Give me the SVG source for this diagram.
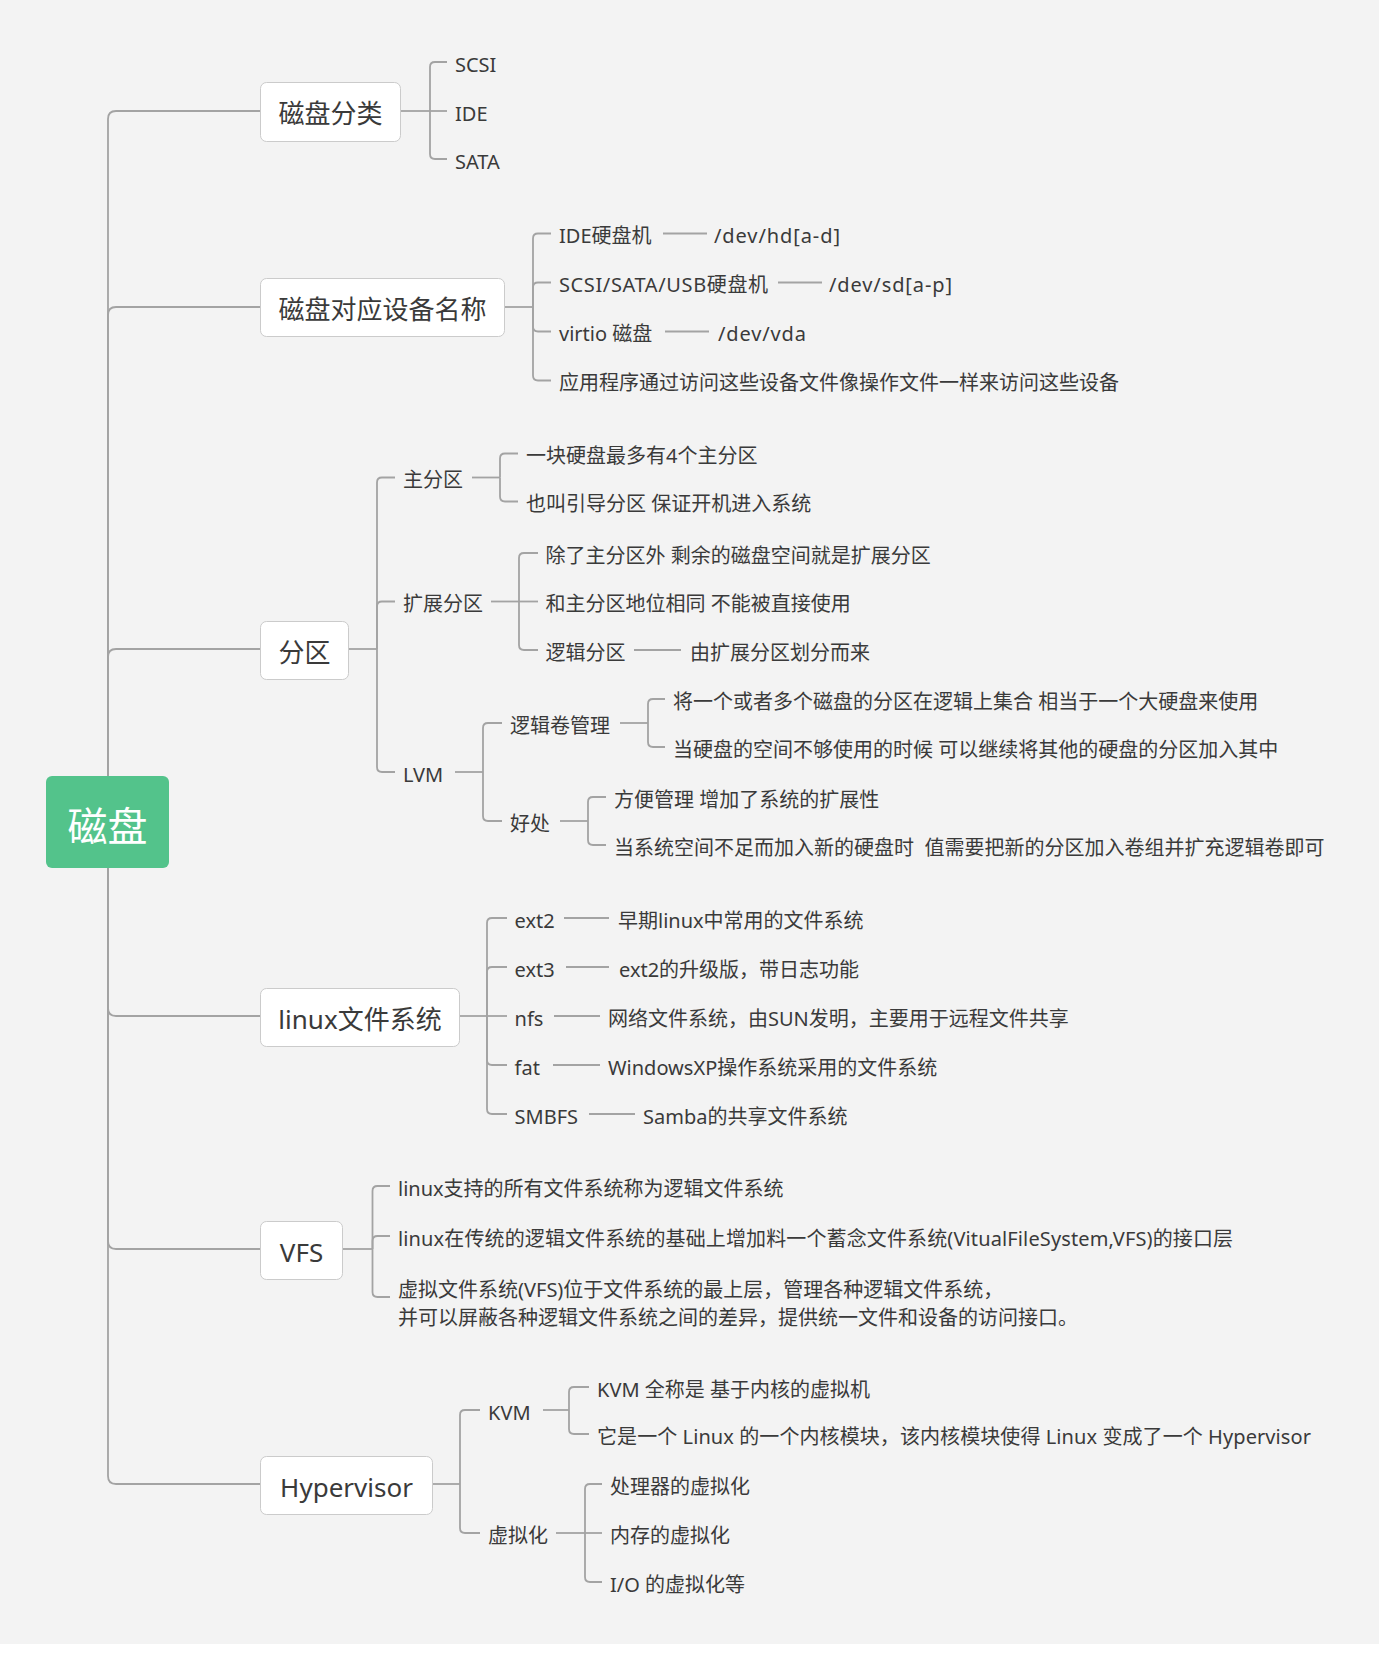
<svg xmlns="http://www.w3.org/2000/svg" width="1387" height="1654" viewBox="0 0 1387 1654">
<style>
text{font-family:"Noto Sans","Noto Sans CJK SC",sans-serif;fill:#3a3a3a}
.t{font-size:20px}
.b{font-size:26px;text-anchor:middle}
.box{fill:#ffffff;stroke:#cbcbcb;stroke-width:1}
#connectors path{fill:none;stroke:#a3a3a3;stroke-width:1.8}
</style>
<rect width="1387" height="1654" fill="#ffffff"/>
<rect width="1379" height="1644" fill="#f3f3f3"/>
<g id="connectors">
<path d="M108,776 V119 Q108,111 116,111 H260"/>
<path d="M108,776 V315 Q108,307 116,307 H260"/>
<path d="M108,776 V657 Q108,649 116,649 H260"/>
<path d="M108,868 V1008 Q108,1016 116,1016 H260"/>
<path d="M108,868 V1241 Q108,1249 116,1249 H260"/>
<path d="M108,868 V1476 Q108,1484 116,1484 H260"/>
<path d="M400,111 H430"/>
<path d="M430,111 V67 Q430,62 435,62 H447"/>
<path d="M430,111 H447"/>
<path d="M430,111 V154 Q430,159 435,159 H447"/>
<path d="M504,307 H533"/>
<path d="M533,307 V238.5 Q533,233.5 538,233.5 H551"/>
<path d="M533,307 V287.5 Q533,282.5 538,282.5 H551"/>
<path d="M533,307 V326.5 Q533,331.5 538,331.5 H551"/>
<path d="M533,307 V375.5 Q533,380.5 538,380.5 H551"/>
<path d="M663,233.5 H707"/>
<path d="M778,282.5 H822"/>
<path d="M665,331.5 H709"/>
<path d="M348,649 H377"/>
<path d="M377,649 V482.5 Q377,477.5 382,477.5 H395"/>
<path d="M377,649 V606.5 Q377,601.5 382,601.5 H395"/>
<path d="M377,649 V767 Q377,772 382,772 H395"/>
<path d="M472,477.5 H500"/>
<path d="M500,477.5 V458.5 Q500,453.5 505,453.5 H518"/>
<path d="M500,477.5 V496.5 Q500,501.5 505,501.5 H518"/>
<path d="M491,601.5 H519"/>
<path d="M519,601.5 V558 Q519,553 524,553 H538"/>
<path d="M519,601.5 H538"/>
<path d="M519,601.5 V645 Q519,650 524,650 H538"/>
<path d="M634,650 H681"/>
<path d="M455,772 H483"/>
<path d="M483,772 V728 Q483,723 488,723 H502"/>
<path d="M483,772 V816 Q483,821 488,821 H502"/>
<path d="M620,723 H648"/>
<path d="M648,723 V704 Q648,699 653,699 H665"/>
<path d="M648,723 V742 Q648,747 653,747 H665"/>
<path d="M560,821 H588"/>
<path d="M588,821 V802 Q588,797 593,797 H606"/>
<path d="M588,821 V840 Q588,845 593,845 H606"/>
<path d="M459,1016 H487"/>
<path d="M487,1016 V923 Q487,918 492,918 H507"/>
<path d="M487,1016 V972 Q487,967 492,967 H507"/>
<path d="M487,1016 H507"/>
<path d="M487,1016 V1060 Q487,1065 492,1065 H507"/>
<path d="M487,1016 V1109 Q487,1114 492,1114 H507"/>
<path d="M564,918 H609"/>
<path d="M566,967 H609"/>
<path d="M554,1016 H600"/>
<path d="M553,1065 H600"/>
<path d="M589,1114 H635"/>
<path d="M342,1249 H372.5"/>
<path d="M372.5,1249 V1191 Q372.5,1186 377.5,1186 H390"/>
<path d="M372.5,1249 V1241 Q372.5,1236 377.5,1236 H390"/>
<path d="M372.5,1249 V1292 Q372.5,1297 377.5,1297 H390"/>
<path d="M432,1484 H460"/>
<path d="M460,1484 V1415 Q460,1410 465,1410 H480"/>
<path d="M460,1484 V1528 Q460,1533 465,1533 H480"/>
<path d="M543,1410 H569"/>
<path d="M569,1410 V1392 Q569,1387 574,1387 H589"/>
<path d="M569,1410 V1429 Q569,1434 574,1434 H589"/>
<path d="M556,1533 H585"/>
<path d="M585,1533 V1489 Q585,1484 590,1484 H602"/>
<path d="M585,1533 H602"/>
<path d="M585,1533 V1577 Q585,1582 590,1582 H602"/>
</g>
<g id="root">
<rect x="46" y="776" width="123" height="92" rx="6" fill="#53c38b"/>
<text x="107.5" y="841" style="font-size:40px;text-anchor:middle;fill:#ffffff">磁盘</text>
</g>
<g id="n-fenlei">
<rect class="box" x="260.5" y="82.5" width="140" height="59" rx="6"/>
<text class="b" x="330.5" y="123">磁盘分类</text>
</g>
<g id="n-scsi"><text class="t" x="455" y="71.5">SCSI</text></g>
<g id="n-ide"><text class="t" x="455" y="120.5">IDE</text></g>
<g id="n-sata"><text class="t" x="455" y="168.5">SATA</text></g>
<g id="n-devname">
<rect class="box" x="260.5" y="278.5" width="244" height="58" rx="6"/>
<text class="b" x="382.5" y="319">磁盘对应设备名称</text>
</g>
<g id="n-ide2"><text class="t" x="559" y="243">IDE硬盘机</text></g>
<g id="n-hd"><text class="t" x="714" y="243" textLength="126" lengthAdjust="spacing">/dev/hd[a-d]</text></g>
<g id="n-scsi2"><text class="t" x="559" y="292" textLength="209" lengthAdjust="spacing">SCSI/SATA/USB硬盘机</text></g>
<g id="n-sd"><text class="t" x="829" y="292" textLength="123" lengthAdjust="spacing">/dev/sd[a-p]</text></g>
<g id="n-virtio"><text class="t" x="559" y="341">virtio 磁盘</text></g>
<g id="n-vda"><text class="t" x="718" y="341" textLength="88" lengthAdjust="spacing">/dev/vda</text></g>
<g id="n-app"><text class="t" x="559" y="390">应用程序通过访问这些设备文件像操作文件一样来访问这些设备</text></g>
<g id="n-fenqu">
<rect class="box" x="260.5" y="621.5" width="88" height="58" rx="6"/>
<text class="b" x="304.5" y="662">分区</text>
</g>
<g id="n-zhu"><text class="t" x="403" y="487">主分区</text></g>
<g id="n-zhu1"><text class="t" x="526" y="463">一块硬盘最多有4个主分区</text></g>
<g id="n-zhu2"><text class="t" x="526" y="511">也叫引导分区 保证开机进入系统</text></g>
<g id="n-kuo"><text class="t" x="403" y="611">扩展分区</text></g>
<g id="n-kuo1"><text class="t" x="545.5" y="562.5">除了主分区外 剩余的磁盘空间就是扩展分区</text></g>
<g id="n-kuo2"><text class="t" x="545.5" y="611">和主分区地位相同 不能被直接使用</text></g>
<g id="n-luoji"><text class="t" x="545.5" y="659.5">逻辑分区</text></g>
<g id="n-luoji1"><text class="t" x="690" y="659.5">由扩展分区划分而来</text></g>
<g id="n-lvm"><text class="t" x="403" y="781.5">LVM</text></g>
<g id="n-lvm1"><text class="t" x="510" y="732.5">逻辑卷管理</text></g>
<g id="n-lvm11"><text class="t" x="673" y="708.5">将一个或者多个磁盘的分区在逻辑上集合 相当于一个大硬盘来使用</text></g>
<g id="n-lvm12"><text class="t" x="673" y="756.5">当硬盘的空间不够使用的时候 可以继续将其他的硬盘的分区加入其中</text></g>
<g id="n-lvm2"><text class="t" x="510" y="830.5">好处</text></g>
<g id="n-lvm21"><text class="t" x="614" y="806.5">方便管理 增加了系统的扩展性</text></g>
<g id="n-lvm22"><text class="t" x="614" y="854.5" xml:space="preserve">当系统空间不足而加入新的硬盘时  值需要把新的分区加入卷组并扩充逻辑卷即可</text></g>
<g id="n-fs">
<rect class="box" x="260.5" y="988.5" width="199" height="58" rx="6"/>
<text class="b" x="360" y="1029">linux文件系统</text>
</g>
<g id="n-ext2"><text class="t" x="514.6" y="927.5">ext2</text></g>
<g id="n-ext2d"><text class="t" x="618" y="927.5">早期linux中常用的文件系统</text></g>
<g id="n-ext3"><text class="t" x="514.6" y="976.5">ext3</text></g>
<g id="n-ext3d"><text class="t" x="619" y="976.5">ext2的升级版，带日志功能</text></g>
<g id="n-nfs"><text class="t" x="514.6" y="1025.5">nfs</text></g>
<g id="n-nfsd"><text class="t" x="608" y="1025.5">网络文件系统，由SUN发明，主要用于远程文件共享</text></g>
<g id="n-fat"><text class="t" x="514.6" y="1074.5">fat</text></g>
<g id="n-fatd"><text class="t" x="608" y="1074.5">WindowsXP操作系统采用的文件系统</text></g>
<g id="n-smbfs"><text class="t" x="514.6" y="1123.5">SMBFS</text></g>
<g id="n-smbfsd"><text class="t" x="643" y="1123.5">Samba的共享文件系统</text></g>
<g id="n-vfs">
<rect class="box" x="260.5" y="1221.5" width="82" height="58" rx="6"/>
<text class="b" x="301.5" y="1262">VFS</text>
</g>
<g id="n-vfs1"><text class="t" x="398" y="1195.5">linux支持的所有文件系统称为逻辑文件系统</text></g>
<g id="n-vfs2"><text class="t" x="398" y="1245.5" textLength="835" lengthAdjust="spacing">linux在传统的逻辑文件系统的基础上增加料一个蓄念文件系统(VitualFileSystem,VFS)的接口层</text></g>
<g id="n-vfs3"><text class="t" x="398" y="1296.5">虚拟文件系统(VFS)位于文件系统的最上层，管理各种逻辑文件系统，<tspan x="398" y="1324.5">并可以屏蔽各种逻辑文件系统之间的差异，提供统一文件和设备的访问接口。</tspan></text></g>
<g id="n-hyper">
<rect class="box" x="260.5" y="1456.5" width="172" height="58" rx="6"/>
<text class="b" x="346.5" y="1497">Hypervisor</text>
</g>
<g id="n-kvm"><text class="t" x="488" y="1419.5">KVM</text></g>
<g id="n-kvm1"><text class="t" x="597" y="1396.5">KVM 全称是 基于内核的虚拟机</text></g>
<g id="n-kvm2"><text class="t" x="597" y="1443.5" textLength="714" lengthAdjust="spacing">它是一个 Linux 的一个内核模块，该内核模块使得 Linux 变成了一个 Hypervisor</text></g>
<g id="n-virt"><text class="t" x="488" y="1542.5">虚拟化</text></g>
<g id="n-virt1"><text class="t" x="610" y="1493.5">处理器的虚拟化</text></g>
<g id="n-virt2"><text class="t" x="610" y="1542.5">内存的虚拟化</text></g>
<g id="n-virt3"><text class="t" x="610" y="1591.5">I/O 的虚拟化等</text></g>
</svg>
